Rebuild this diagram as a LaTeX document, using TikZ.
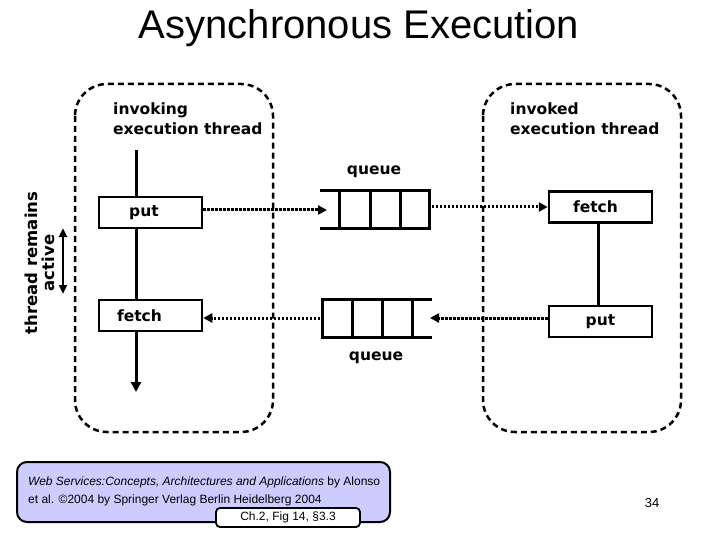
\documentclass[tikz,border=0pt]{standalone}
\usepackage{fontspec}
\setmainfont{Liberation Sans}
\newfontfamily\comic{DejaVu Sans}
\usetikzlibrary{arrows.meta}
\definecolor{footfill}{RGB}{204,204,255}
\begin{document}
\begin{tikzpicture}[x=1pt,y=-1pt,
  lbl/.style={font=\comic\bfseries\fontsize{15.5}{20}\selectfont, inner sep=0pt},
  opbox/.style={draw, line width=2.5pt, minimum width=103pt, minimum height=31pt, inner sep=0pt, font=\comic\bfseries\fontsize{15.5}{20}\selectfont},
  thread/.style={draw, dash pattern=on 6pt off 4pt, line width=2.5pt, rounded corners=32pt},
  solidline/.style={line width=3pt},
  qline/.style={line width=3pt, line cap=rect},
  dotarrow/.style={line width=3pt, dash pattern=on 2.4pt off 1.6pt, -{Triangle[length=9pt,width=9pt]}},
  solidarrow/.style={line width=3pt, -{Triangle[length=10pt,width=10pt]}},
  dblarrow/.style={line width=2.5pt, {Triangle[length=9pt,width=8pt]}-{Triangle[length=9pt,width=8pt]}}
]
\useasboundingbox (0,0) rectangle (720,540);

% title
\node[anchor=base, font=\fontsize{40}{44}\selectfont, inner sep=0pt] (title) at (359,39) {Asynchronous Execution};

% thread boxes
\draw[thread] (75,84) rectangle (273,432);
\draw[thread] (483,84) rectangle (681,432);

% thread labels
\node[lbl, anchor=north west, align=left] (invoking) at (113,103) {invoking\\execution thread};
\node[lbl, anchor=north west, align=left] (invoked) at (510,103) {invoked\\execution thread};

% left side operations
\node[opbox] (lput) at (150.5,212.5) {put\hspace*{13pt}};
\node[opbox] (lfetch) at (150.5,315.5) {fetch\hspace*{22pt}};
\coordinate (ltop) at (136,150);
\coordinate (lend) at (136,392);
\draw[solidline] (ltop) -- (ltop |- lput.north);
\draw[solidline] (lput.south -| ltop) -- (lfetch.north -| ltop);
\draw[solidarrow] (lfetch.south -| ltop) -- (lend);

% right side operations
\node[opbox] (rfetch) at (600.5,207) {fetch\hspace*{10pt}};
\node[opbox] (rput) at (600.5,321.5) {put};
\coordinate (rmid) at (598,260);
\draw[solidline] (rfetch.south -| rmid) -- (rput.north -| rmid);

% upper queue
\node[inner sep=0pt, minimum width=109pt, minimum height=38pt] (q1) at (375.5,210) {};
\draw[qline] (321,191) -- (429,191);
\draw[qline] (321,229) -- (429,229);
\foreach \x in {339,370,400,429} \draw[qline] (\x,191) -- (\x,229);
\node[lbl] (q1lbl) at (374,172) {queue};

% lower queue
\node[inner sep=0pt, minimum width=109pt, minimum height=38pt] (q2) at (375.5,318) {};
\draw[qline] (322,299) -- (430,299);
\draw[qline] (322,337) -- (430,337);
\foreach \x in {322,352,382,412} \draw[qline] (\x,299) -- (\x,337);
\node[lbl] (q2lbl) at (376,358) {queue};

% message flow
\coordinate (q1in) at (327,210);
\coordinate (q1out) at (432,207);
\coordinate (q2in) at (430,318);
\coordinate (q2out) at (320,318);
\draw[dotarrow] (lput.east |- q1in) -- (q1in);
\draw[dotarrow] (q1out) -- (rfetch.west |- q1out);
\draw[dotarrow] (rput.west |- q2in) -- (q2in);
\draw[dotarrow] (q2out) -- (lfetch.east |- q2out);

% thread remains active
\node[lbl, rotate=90, font=\comic\bfseries\fontsize{16.5}{20}\selectfont] (tra1) at (31,263) {thread remains};
\node[lbl, rotate=90, font=\comic\bfseries\fontsize{16.5}{20}\selectfont] (tra2) at (48,263) {active};
\coordinate (act1) at (63,228);
\coordinate (act2) at (63,294);
\draw[dblarrow] (act1) -- (act2);

% footer
\node[draw, line width=2pt, fill=footfill, rounded corners=10pt, minimum width=373pt, minimum height=60pt, inner sep=0pt] (foot) at (203.5,492) {};
\node[anchor=west, align=left, inner sep=0pt, font=\fontsize{12}{17.5}\selectfont] (cite) at (28,491.5) {\textit{Web Services:Concepts, Architectures and Applications} by Alonso\\et al. ©2004 by Springer Verlag Berlin Heidelberg 2004};
\node[draw, line width=1.8pt, fill=white, rounded corners=4pt, minimum width=144pt, minimum height=19pt, inner sep=0pt, font=\fontsize{12}{14}\selectfont] (chap) at (288,517.5) {Ch.2, Fig 14, §3.3};
\node[font=\fontsize{13}{15}\selectfont, inner sep=0pt] (page) at (652,503) {34};
\end{tikzpicture}
\end{document}
